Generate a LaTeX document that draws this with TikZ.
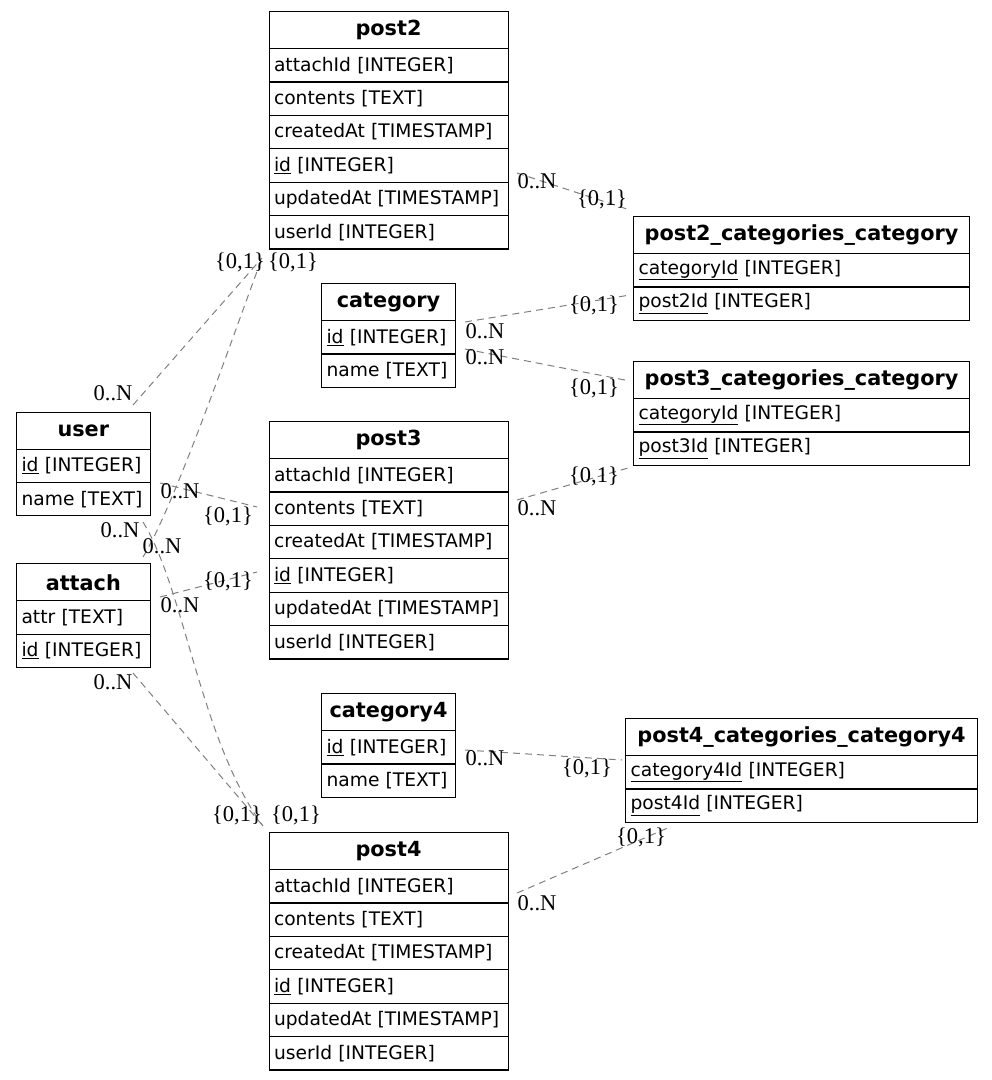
\documentclass[tikz,border=0pt]{standalone}
\usepackage{fontspec}
\newfontfamily\dv{DejaVu Sans}
\newfontfamily\lser{Liberation Serif}
\begin{document}
\begin{tikzpicture}[x=1pt,y=-1pt,
  erhead/.style={draw=black, line width=1.1pt, anchor=north west, inner xsep=5pt, inner ysep=0pt,
    minimum height=37pt, align=center, font=\dv\bfseries\fontsize{20.8}{24}\selectfont},
  errow/.style={draw=black, line width=1.1pt, anchor=north west, inner xsep=5pt, inner ysep=0pt,
    minimum height=33.4pt, align=left, font=\dv\fontsize{18.67}{22}\selectfont},
  rel/.style={draw=gray, line width=1pt, dash pattern=on 7pt off 5pt},
  lbl/.style={inner sep=0pt, font=\lser\fontsize{22.5}{25}\selectfont}
]
\useasboundingbox[fill=white] (0,0) rectangle (992,1080);
\newcommand\ertable[6]{%
  \pgfmathsetmacro\ertw{#4-10}%
  \node[erhead, text width=\ertw pt] (#1-0) at (#2,#3) {#5};
  \foreach \rtext [count=\ri] in {#6} {
    \node[errow, text width=\ertw pt] (#1-\ri) at (#2,{#3+37+(\ri-1)*33.4}) {\rtext};
  }%
}
% tables
\ertable{post2}{268.5}{11}{239}{post2}{attachId [INTEGER], contents [TEXT], createdAt [TIMESTAMP], \underline{id} [INTEGER], updatedAt [TIMESTAMP], userId [INTEGER]}
\ertable{ptwocc}{633}{216}{336}{post2\_categories\_category}{\underline{categoryId} [INTEGER], \underline{post2Id} [INTEGER]}
\ertable{category}{321}{283}{134}{category}{\underline{id} [INTEGER], name [TEXT]}
\ertable{pthreecc}{633}{361}{336}{post3\_categories\_category}{\underline{categoryId} [INTEGER], \underline{post3Id} [INTEGER]}
\ertable{user}{16}{411.5}{133.5}{user}{\underline{id} [INTEGER], name [TEXT]}
\ertable{post3}{268.5}{421}{239}{post3}{attachId [INTEGER], contents [TEXT], createdAt [TIMESTAMP], \underline{id} [INTEGER], updatedAt [TIMESTAMP], userId [INTEGER]}
\ertable{attach}{16}{563.3}{133.5}{attach}{attr [TEXT], \underline{id} [INTEGER]}
\ertable{category4}{321}{693}{134}{category4}{\underline{id} [INTEGER], name [TEXT]}
\ertable{pfourcc}{625}{718}{352}{post4\_categories\_category4}{\underline{category4Id} [INTEGER], \underline{post4Id} [INTEGER]}
\ertable{post4}{268.5}{832}{239}{post4}{attachId [INTEGER], contents [TEXT], createdAt [TIMESTAMP], \underline{id} [INTEGER], updatedAt [TIMESTAMP], userId [INTEGER]}
% connector ends
\coordinate (c1a) at (133,405);  \coordinate (c1b) at (262,258);
\coordinate (c2a) at (143,557);  \coordinate (c2b) at (262,258);
\coordinate (c3a) at (143,522);  \coordinate (c3b) at (263,826);
\coordinate (c4a) at (133,673);  \coordinate (c4b) at (263,826);
\coordinate (c5a) at (160,483);  \coordinate (c5b) at (257,507);
\coordinate (c6a) at (160,597);  \coordinate (c6b) at (257,572);
\coordinate (c7a) at (517,173);  \coordinate (c7b) at (630,210);
\coordinate (c8a) at (465,322);  \coordinate (c8b) at (630,295);
\coordinate (c9a) at (465,349);  \coordinate (c9b) at (630,381);
\coordinate (c10a) at (517,500); \coordinate (c10b) at (628,468);
\coordinate (c11a) at (465,750); \coordinate (c11b) at (622,760);
\coordinate (c12a) at (517,893); \coordinate (c12b) at (670,827);
% connectors
\draw[rel] (c1a) -- (c1b);
\draw[rel] (c2a) .. controls (175,505) and (235,330) .. (c2b);
\draw[rel] (c3a) .. controls (185,590) and (200,740) .. (c3b);
\draw[rel] (c4a) -- (c4b);
\draw[rel] (c5a) -- (c5b);
\draw[rel] (c6a) -- (c6b);
\draw[rel] (c7a) -- (c7b);
\draw[rel] (c8a) -- (c8b);
\draw[rel] (c9a) -- (c9b);
\draw[rel] (c10a) -- (c10b);
\draw[rel] (c11a) -- (c11b);
\draw[rel] (c12a) -- (c12b);
% labels
\node[lbl] (l1a) at (113,393) {0..N};
\node[lbl] (l1b) at (240,262) {\{0,1\}};
\node[lbl] (l2a) at (162,546) {0..N};
\node[lbl] (l2b) at (293,262) {\{0,1\}};
\node[lbl] (l3a) at (120,530) {0..N};
\node[lbl] (l3b) at (296,815) {\{0,1\}};
\node[lbl] (l4a) at (113,682) {0..N};
\node[lbl] (l4b) at (237,815) {\{0,1\}};
\node[lbl] (l5a) at (180,491) {0..N};
\node[lbl] (l5b) at (228,516) {\{0,1\}};
\node[lbl] (l6a) at (180,605) {0..N};
\node[lbl] (l6b) at (228,581) {\{0,1\}};
\node[lbl] (l7a) at (537,181) {0..N};
\node[lbl] (l7b) at (602,199) {\{0,1\}};
\node[lbl] (l8a) at (485,331) {0..N};
\node[lbl] (l8b) at (594,305) {\{0,1\}};
\node[lbl] (l9a) at (485,357) {0..N};
\node[lbl] (l9b) at (594,388) {\{0,1\}};
\node[lbl] (l10a) at (537,508) {0..N};
\node[lbl] (l10b) at (594,476) {\{0,1\}};
\node[lbl] (l11a) at (485,758) {0..N};
\node[lbl] (l11b) at (587,768) {\{0,1\}};
\node[lbl] (l12a) at (537,903) {0..N};
\node[lbl] (l12b) at (641,837) {\{0,1\}};
\end{tikzpicture}
\end{document}
